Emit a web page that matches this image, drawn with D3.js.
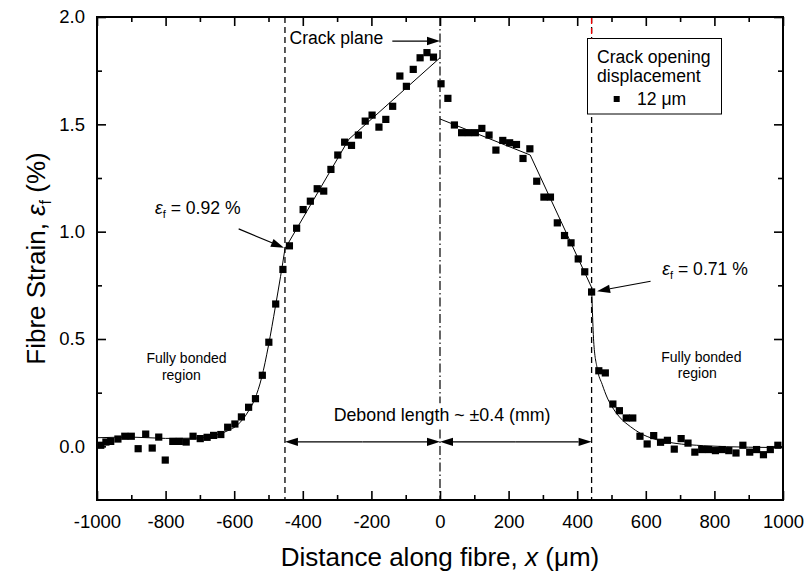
<!DOCTYPE html>
<html>
<head>
<meta charset="utf-8">
<script src="https://cdn.jsdelivr.net/npm/d3@7"></script>
<style>
  body { margin: 0; background: #fff; }
  svg { display: block; }
  text { font-family: "Liberation Sans", Arial, Helvetica, sans-serif; fill: #000; }
</style>
</head>
<body>
<svg id="chart" width="809" height="580"></svg>
<script>
// Measured fibre strain along the fibre (crack opening displacement 12 µm)
const distance = [
  -989, -974, -960, -939, -919, -900, -880, -858, -839, -820,
  -801, -779, -760, -740, -720, -699, -679, -660, -639, -619,
  -598, -579, -558, -538, -518, -499, -479, -458, -439, -418,
  -399, -378, -358, -339, -318, -298, -278, -258, -238, -218,
  -198, -178, -158, -138, -117, -98, -78, -58, -38, -19,
  3, 23, 42, 63, 83, 103, 122, 143, 163, 183,
  203, 223, 242, 262, 282, 303, 322, 342, 363, 382,
  403, 422, 442, 463, 482, 504, 523, 543, 562, 583,
  604, 623, 643, 663, 683, 703, 723, 743, 763, 783,
  803, 823, 842, 863, 883, 903, 923, 943, 963, 985
];
const strain = [
  0.005, 0.020, 0.023, 0.034, 0.047, 0.047, -0.011, 0.057, -0.008, 0.043,
  -0.064, 0.023, 0.023, 0.020, 0.047, 0.036, 0.042, 0.051, 0.055, 0.089,
  0.104, 0.137, 0.182, 0.222, 0.331, 0.485, 0.663, 0.824, 0.934, 1.016,
  1.103, 1.142, 1.200, 1.189, 1.290, 1.357, 1.417, 1.402, 1.450, 1.515,
  1.543, 1.487, 1.523, 1.584, 1.725, 1.677, 1.756, 1.810, 1.834, 1.813,
  1.689, 1.621, 1.497, 1.461, 1.461, 1.461, 1.481, 1.450, 1.380, 1.425,
  1.414, 1.406, 1.341, 1.386, 1.235, 1.161, 1.161, 1.041, 0.982, 0.948,
  0.873, 0.813, 0.719, 0.352, 0.342, 0.197, 0.166, 0.132, 0.132, 0.047,
  0.011, 0.050, 0.019, 0.028, -0.013, 0.036, 0.015, -0.027, -0.015, -0.015,
  -0.020, -0.015, -0.020, -0.031, 0.005, -0.027, -0.015, -0.039, -0.015, 0.005
];

// Fitted strain profile: bonded (shear-lag) parts and linear debonded parts
const fitBondedLeft = [
  [-1000, 0.040], [-900, 0.043], [-800, 0.037], [-720, 0.038], [-660, 0.050],
  [-620, 0.072], [-590, 0.100], [-560, 0.160], [-540, 0.220], [-520, 0.320],
  [-500, 0.470], [-480, 0.650], [-465, 0.790], [-452, 0.920]
];
const fitDebondLeft = [[-452, 0.920], [-266, 1.430], [0, 1.810]];
const fitDebondRight = [[0, 1.525], [263, 1.357], [442, 0.740]];
const fitBondedRight = [
  [442, 0.740], [444, 0.645], [448, 0.490], [458, 0.365], [473, 0.288],
  [488, 0.225], [507, 0.171], [526, 0.132], [555, 0.092], [585, 0.060],
  [623, 0.035], [682, 0.015], [769, 0.003], [900, -0.004], [1000, -0.006]
];

// Axis ticks
const xMajor = [-1000, -800, -600, -400, -200, 0, 200, 400, 600, 800, 1000];
const xMinor = [-900, -700, -500, -300, -100, 100, 300, 500, 700, 900];
const yMajor = [0.0, 0.5, 1.0, 1.5, 2.0];
const yMinor = [0.25, 0.75, 1.25, 1.75];

// Debond boundaries and crack plane
const debondLeft = -452;
const debondRight = 442;
const crackPlane = 0;

const svg = d3.select("#chart");
const x = d3.scaleLinear().domain([-1000, 1000]).range([97, 783]);
const y = d3.scaleLinear().domain([-0.25, 2.0]).range([500, 17]);
const [x0, x1] = x.range();
const [yb, yt] = y.range();

// Fit lines
const line = d3.line().x(d => x(d[0])).y(d => y(d[1]));
const smooth = d3.line().x(d => x(d[0])).y(d => y(d[1])).curve(d3.curveMonotoneX);
svg.append("path").attr("d", smooth(fitBondedLeft)).attr("fill", "none").attr("stroke", "#000").attr("stroke-width", 1);
svg.append("path").attr("d", line(fitDebondLeft)).attr("fill", "none").attr("stroke", "#000").attr("stroke-width", 1);
svg.append("path").attr("d", line(fitDebondRight)).attr("fill", "none").attr("stroke", "#000").attr("stroke-width", 1);
svg.append("path").attr("d", smooth(fitBondedRight)).attr("fill", "none").attr("stroke", "#000").attr("stroke-width", 1);

// Boundary lines
svg.append("line").attr("x1", x(debondLeft)).attr("x2", x(debondLeft)).attr("y1", yt).attr("y2", yb)
  .attr("stroke", "#000").attr("stroke-width", 1.3).attr("stroke-dasharray", "6,4");
svg.append("line").attr("x1", x(debondRight)).attr("x2", x(debondRight)).attr("y1", yt).attr("y2", yb)
  .attr("stroke", "#000").attr("stroke-width", 1.3).attr("stroke-dasharray", "6,4");
svg.append("line").attr("x1", x(crackPlane)).attr("x2", x(crackPlane)).attr("y1", yt).attr("y2", yb)
  .attr("stroke", "#000").attr("stroke-width", 1.2).attr("stroke-dasharray", "9,3,1.5,3");

// Data markers
svg.append("g").selectAll("rect")
  .data(distance.map((d, i) => [d, strain[i]]))
  .join("rect")
  .attr("x", d => x(d[0]) - 3.6)
  .attr("y", d => y(d[1]) - 3.6)
  .attr("width", 7.2).attr("height", 7.2)
  .attr("fill", "#000");

// Arrow helper
function arrow(g, xa, ya, xb, yb2, head = 13, half = 4.2) {
  const ang = Math.atan2(yb2 - ya, xb - xa);
  const bx = xb - head * Math.cos(ang), by = yb2 - head * Math.sin(ang);
  g.append("line").attr("x1", xa).attr("y1", ya).attr("x2", bx).attr("y2", by)
    .attr("stroke", "#000").attr("stroke-width", 1.2);
  const px = -Math.sin(ang) * half, py = Math.cos(ang) * half;
  g.append("path")
    .attr("d", `M${xb},${yb2}L${bx + px},${by + py}L${bx - px},${by - py}Z`)
    .attr("fill", "#000");
}
const ann = svg.append("g");

// Debond length double arrows
const ya = y(0.021);
{
  const xl = x(debondLeft), xc = x(crackPlane), xr = x(debondRight);
  const mid1 = (xl + xc) / 2, mid2 = (xc + xr) / 2;
  arrow(ann, mid1, ya, xl, ya); arrow(ann, mid1, ya, xc, ya);
  arrow(ann, mid2, ya, xc, ya); arrow(ann, mid2, ya, xr, ya);
}
// Debond length label on white background
{
  const t = ann.append("text").attr("x", x(6)).attr("y", y(0.117))
    .attr("text-anchor", "middle").attr("font-size", 17.8)
    .text("Debond length ~ \u00b10.4 (mm)");
  const b = t.node().getBBox();
  ann.insert("rect", "text").attr("x", b.x - 2).attr("y", b.y - 2)
    .attr("width", b.width + 4).attr("height", b.height + 4).attr("fill", "#fff");
}

// Crack plane label and arrow
ann.append("text").attr("x", x(-439)).attr("y", y(1.874)).attr("font-size", 17.6).text("Crack plane");
arrow(ann, x(-139), y(1.888), x(crackPlane), y(1.888));

// Strain labels at the debond tips
function strainLabel(xv, yv, value) {
  const t = ann.append("text").attr("x", x(xv)).attr("y", y(yv)).attr("font-size", 17.6);
  t.append("tspan").attr("font-style", "italic").text("\u03b5");
  t.append("tspan").attr("font-size", 11).attr("dy", 4).text("f");
  t.append("tspan").attr("dy", -4).text(" = " + value + " %");
}
strainLabel(-831, 1.082, "0.92");
arrow(ann, x(-587), y(1.013), x(-455), y(0.925));
strainLabel(648, 0.800, "0.71");
arrow(ann, x(614), y(0.769), x(458), y(0.723));

// Region labels
function regionLabel(xa, xb, yv) {
  ann.append("text").attr("x", x(xa)).attr("y", y(yv)).attr("text-anchor", "middle")
    .attr("font-size", 14).text("Fully bonded");
  ann.append("text").attr("x", x(xb)).attr("y", y(yv) + 16.5).attr("text-anchor", "middle")
    .attr("font-size", 14).text("region");
}
regionLabel(-739, -754, 0.388);
regionLabel(762, 750, 0.393);

// Axes: ticks point inward on all four sides
const fmtX = d => String(d);
const fmtY = d => d.toFixed(1);
function styleAxis(g, fs) {
  g.select(".domain").remove();
  g.selectAll(".tick line").attr("stroke", "#000").attr("stroke-width", 1.6);
  g.selectAll(".tick text").attr("font-size", fs).attr("font-family", "Liberation Sans, Arial, sans-serif").attr("fill", "#000");
}
svg.append("g").attr("transform", `translate(0,${yb})`)
  .call(d3.axisBottom(x).tickValues(xMajor).tickSize(-9).tickPadding(15).tickFormat(fmtX))
  .call(g => styleAxis(g, 18.5));
svg.append("g").attr("transform", `translate(0,${yb})`)
  .call(d3.axisBottom(x).tickValues(xMinor).tickSize(-5).tickFormat(""))
  .call(g => styleAxis(g, 0));
svg.append("g").attr("transform", `translate(0,${yt})`)
  .call(d3.axisTop(x).tickValues(xMajor).tickSize(-9).tickFormat(""))
  .call(g => styleAxis(g, 0));
svg.append("g").attr("transform", `translate(0,${yt})`)
  .call(d3.axisTop(x).tickValues(xMinor).tickSize(-5).tickFormat(""))
  .call(g => styleAxis(g, 0));
svg.append("g").attr("transform", `translate(${x0},0)`)
  .call(d3.axisLeft(y).tickValues(yMajor).tickSize(-9).tickPadding(12).tickFormat(fmtY))
  .call(g => styleAxis(g, 18.5));
svg.append("g").attr("transform", `translate(${x0},0)`)
  .call(d3.axisLeft(y).tickValues(yMinor).tickSize(-5).tickFormat(""))
  .call(g => styleAxis(g, 0));
svg.append("g").attr("transform", `translate(${x1},0)`)
  .call(d3.axisRight(y).tickValues(yMajor).tickSize(-9).tickFormat(""))
  .call(g => styleAxis(g, 0));
svg.append("g").attr("transform", `translate(${x1},0)`)
  .call(d3.axisRight(y).tickValues(yMinor).tickSize(-5).tickFormat(""))
  .call(g => styleAxis(g, 0));

// Plot frame
svg.append("rect").attr("x", x0).attr("y", yt).attr("width", x1 - x0).attr("height", yb - yt)
  .attr("fill", "none").attr("stroke", "#000").attr("stroke-width", 2);

// Legend
const lg = svg.append("g");
const lgTop = 38.5;
lg.append("rect").attr("x", 587.5).attr("y", lgTop).attr("width", 134).attr("height", 75.5)
  .attr("fill", "#fff").attr("stroke", "#000").attr("stroke-width", 1);
// segment of the debond boundary above the legend box
svg.append("line").attr("x1", x(debondRight)).attr("x2", x(debondRight)).attr("y1", yt + 1).attr("y2", lgTop)
  .attr("stroke", "#e00").attr("stroke-width", 1.3).attr("stroke-dasharray", "6,4");
lg.append("text").attr("x", 597).attr("y", 63.3).attr("font-size", 17.6).text("Crack opening");
lg.append("text").attr("x", 597).attr("y", 82).attr("font-size", 17.6).text("displacement");
lg.append("rect").attr("x", 613.7).attr("y", 96).attr("width", 6).attr("height", 6).attr("fill", "#000");
lg.append("text").attr("x", 637).attr("y", 104.5).attr("font-size", 17.6).text("12 \u03bcm");

// Axis titles
svg.append("text").attr("x", (x0 + x1) / 2).attr("y", 566).attr("text-anchor", "middle")
  .attr("font-size", 26)
  .call(t => {
    t.append("tspan").text("Distance along fibre, ");
    t.append("tspan").attr("font-style", "italic").text("x");
    t.append("tspan").text(" (\u03bcm)");
  });
svg.append("text").attr("transform", `translate(45,${(yt + yb) / 2}) rotate(-90)`)
  .attr("text-anchor", "middle").attr("font-size", 26)
  .call(t => {
    t.append("tspan").text("Fibre Strain, ");
    t.append("tspan").attr("font-style", "italic").text("\u03b5");
    t.append("tspan").attr("font-size", 16).attr("dy", 6).text("f");
    t.append("tspan").attr("dy", -6).text(" (%)");
  });
</script>
</body>
</html>
